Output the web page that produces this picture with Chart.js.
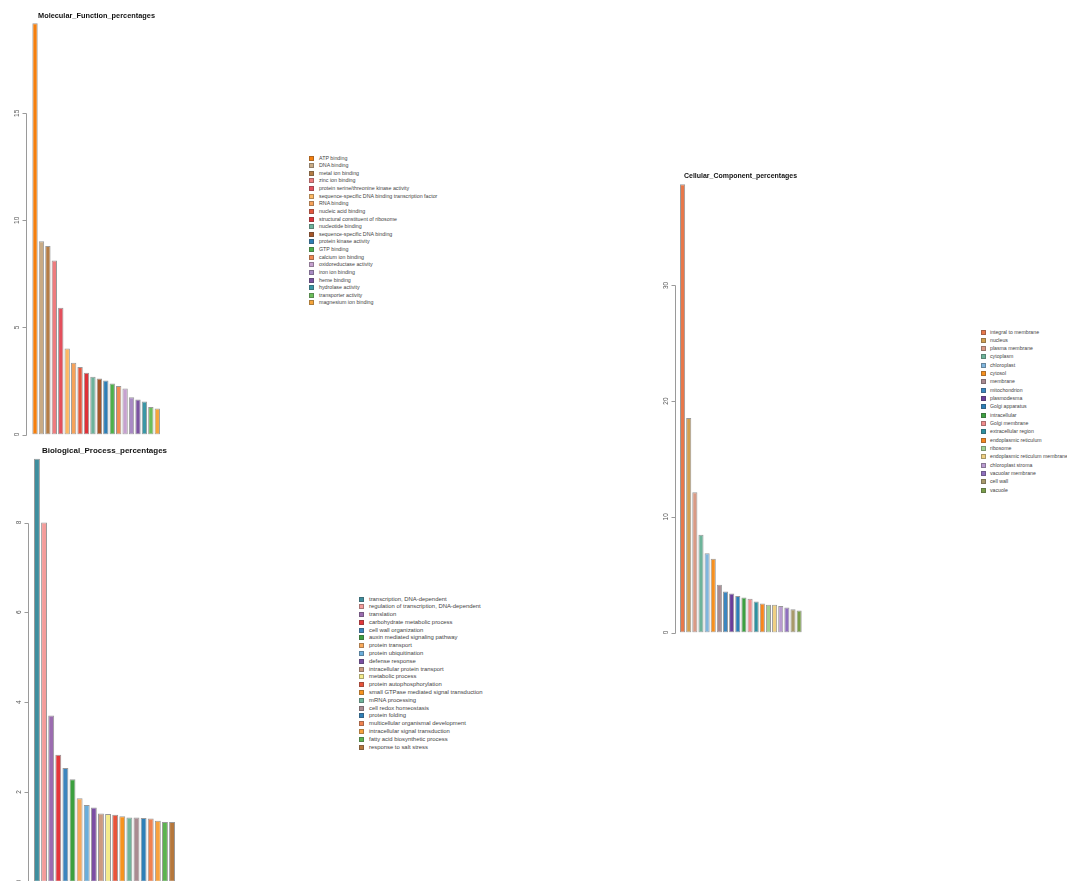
<!DOCTYPE html>
<html>
<head>
<meta charset="utf-8">
<script src="https://cdn.jsdelivr.net/npm/chart.js@4.4.1/dist/chart.umd.min.js"></script>
<style>
  html, body { margin: 0; padding: 0; background: #fff; width: 1067px; height: 881px; overflow: hidden; }
  canvas { position: absolute; }
  .title { position: absolute; font: bold 8px "Liberation Sans", Arial, sans-serif; color: #111; white-space: nowrap; transform-origin: left top; }
  .legend { position: absolute; font-family: "Liberation Sans", Arial, sans-serif; color: #444; }
  .legend .row { position: absolute; left: 0; white-space: nowrap; }
  .legend .sw { position: absolute; left: 0; width: 3px; height: 3px; border: 1px solid rgba(60,60,60,0.4); }
</style>
</head>
<body>
<canvas id="mf" width="200" height="450" style="left:0;top:0"></canvas>
<canvas id="bp" width="200" height="470" style="left:0;top:430px"></canvas>
<canvas id="cc" width="200" height="480" style="left:640px;top:170px"></canvas>

<script>
// GO term distributions (percent of annotated genes)
const mfCategories = ["ATP binding", "DNA binding", "metal ion binding", "zinc ion binding",
  "protein serine/threonine kinase activity", "sequence-specific DNA binding transcription factor",
  "RNA binding", "nucleic acid binding", "structural constituent of ribosome", "nucleotide binding",
  "sequence-specific DNA binding", "protein kinase activity", "GTP binding", "calcium ion binding",
  "oxidoreductase activity", "iron ion binding", "heme binding", "hydrolase activity",
  "transporter activity", "magnesium ion binding"];
const mfValues = [19.2, 9.03, 8.8, 8.13, 5.92, 4.02, 3.35, 3.15, 2.88, 2.70,
  2.62, 2.52, 2.38, 2.26, 2.15, 1.74, 1.64, 1.54, 1.29, 1.21];
const mfTicks = [0, 5, 10, 15];

const bpCategories = ["transcription, DNA-dependent", "regulation of transcription, DNA-dependent",
  "translation", "carbohydrate metabolic process", "cell wall organization",
  "auxin mediated signaling pathway", "protein transport", "protein ubiquitination",
  "defense response", "intracellular protein transport", "metabolic process",
  "protein autophosphorylation", "small GTPase mediated signal transduction", "mRNA processing",
  "cell redox homeostasis", "protein folding", "multicellular organismal development",
  "intracellular signal transduction", "fatty acid biosynthetic process", "response to salt stress"];
const bpValues = [9.42, 8.0, 3.70, 2.83, 2.53, 2.28, 1.86, 1.71, 1.65, 1.52,
  1.51, 1.49, 1.46, 1.43, 1.43, 1.42, 1.41, 1.36, 1.33, 1.33];
const bpTicks = [0, 2, 4, 6, 8];

const ccCategories = ["integral to membrane", "nucleus", "plasma membrane", "cytoplasm", "chloroplast",
  "cytosol", "membrane", "mitochondrion", "plasmodesma", "Golgi apparatus", "intracellular",
  "Golgi membrane", "extracellular region", "endoplasmic reticulum", "ribosome",
  "endoplasmic reticulum membrane", "chloroplast stroma", "vacuolar membrane", "cell wall", "vacuole"];
const ccValues = [38.75, 18.53, 12.13, 8.44, 6.86, 6.37, 4.12, 3.54, 3.37, 3.15,
  3.03, 2.91, 2.68, 2.51, 2.39, 2.39, 2.28, 2.16, 2.02, 1.90];
const ccTicks = [0, 10, 20, 30];

// palettes
const mfColors = ['#F57F0E','#C9AB85','#B57D45','#EE7C7E','#E44F5C','#FDB863','#F6A25A','#E5573E','#DF3138','#6DB29B',
  '#A65628','#2E7EB5','#4DAF4A','#F28A52','#C6A1CF','#A98BC4','#7A52A0','#3A97A6','#6BBE5A','#F6A53A'];
const bpColors = ['#3E8E9E','#F49C9A','#9B6CB0','#E3363A','#3C85BE','#3CA03E','#F9A95A','#6BAEDB','#7B4EA3','#CC9A80',
  '#F4EB8A','#E8533A','#F7931E','#6FB59B','#A98B91','#2E7FB8','#F08250','#F8A23E','#5DB350','#B5773C'];
const ccColors = ['#E8784A','#D2A050','#D99A85','#6DB49A','#80B6DE','#F7901E','#A98A91','#3A86C0','#6A3D9A','#2C7FB8',
  '#3CA040','#F28C8C','#2E90A0','#F7861D','#A0D092','#EFD082','#B99BD0','#8F6FBE','#A89A6A','#7A9E4A'];

// base-graphics style y axis: line only between first and last tick, rotated labels
const baseAxis = {
  id: 'baseAxis',
  afterDraw(chart, args, opts) {
    const y = chart.scales.y, ctx = chart.ctx, ticks = opts.ticks, x = opts.x + 0.5;
    const top = y.getPixelForValue(ticks[ticks.length - 1]);
    const bot = y.getPixelForValue(ticks[0]);
    ctx.save();
    ctx.strokeStyle = '#9a9a9a';
    ctx.lineWidth = 1;
    ctx.beginPath();
    ctx.moveTo(x, Math.round(bot) + 0.5);
    ctx.lineTo(x, Math.round(top) + 0.5);
    ticks.forEach(t => {
      const p = Math.round(y.getPixelForValue(t)) + 0.5;
      ctx.moveTo(x, p);
      ctx.lineTo(x - 4, p);
    });
    ctx.stroke();
    ctx.fillStyle = '#555';
    ctx.font = '6.5px "Liberation Sans", Arial, sans-serif';
    ctx.textAlign = 'center';
    ctx.textBaseline = 'middle';
    ticks.forEach(t => {
      ctx.save();
      ctx.translate(x - 9, y.getPixelForValue(t));
      ctx.rotate(-Math.PI / 2);
      ctx.fillText(String(t), 0, 0);
      ctx.restore();
    });
    ctx.restore();
  }
};

function drawBars(id, labels, values, colors, pad, yMax, ticks, axisX) {
  return new Chart(document.getElementById(id), {
    type: 'bar',
    data: {
      labels: labels,
      datasets: [{
        data: values,
        backgroundColor: colors,
        borderColor: 'rgba(70,70,70,0.55)',
        borderWidth: 1,
        borderSkipped: false,
        categoryPercentage: 1,
        barPercentage: 1 / 1.2
      }]
    },
    options: {
      responsive: false,
      animation: false,
      devicePixelRatio: 1,
      layout: { padding: pad },
      scales: {
        x: { display: false },
        y: { display: false, min: 0, max: yMax }
      },
      plugins: {
        legend: { display: false },
        tooltip: { enabled: false },
        baseAxis: { ticks: ticks, x: axisX }
      }
    },
    plugins: [baseAxis]
  });
}

const charts = [
  drawBars('mf', mfCategories, mfValues, mfColors, { left: 31.8, right: 39.5, top: 14.8, bottom: 15.5 }, 19.6, mfTicks, 26),
  drawBars('bp', bpCategories, bpValues, bpColors, { left: 33.4, right: 24.4, top: 11.7, bottom: 18.3 }, 9.8, bpTicks, 28),
  drawBars('cc', ccCategories, ccValues, ccColors, { left: 39.5, right: 37.8, top: 5.5, bottom: 17.5 }, 39.5, ccTicks, 35)
];

function addTitle(text, left, top, width) {
  const d = document.createElement('div');
  d.className = 'title';
  d.textContent = text;
  document.body.appendChild(d);
  d.style.left = left + 'px';
  d.style.top = top + 'px';
  const w = d.getBoundingClientRect().width;
  d.style.transform = 'scaleX(' + (width / w) + ')';
}
addTitle('Molecular_Function_percentages', 38, 11, 117);
addTitle('Biological_Process_percentages', 42, 446, 125);
addTitle('Cellular_Component_percentages', 684, 171, 113);

// legends built from each chart's labels and bar colours
function addLegend(chart, left, top, step, fontPx, textGap) {
  const box = document.createElement('div');
  box.className = 'legend';
  box.style.left = left + 'px';
  box.style.top = top + 'px';
  box.style.fontSize = fontPx + 'px';
  const ds = chart.data.datasets[0];
  chart.data.labels.forEach((lab, i) => {
    const row = document.createElement('div');
    row.className = 'row';
    row.style.top = (i * step) + 'px';
    row.style.lineHeight = '5px';
    row.style.height = '5px';
    const sw = document.createElement('span');
    sw.className = 'sw';
    sw.style.top = '0px';
    sw.style.background = ds.backgroundColor[i];
    const tx = document.createElement('span');
    tx.style.position = 'absolute';
    tx.style.left = textGap + 'px';
    tx.style.top = '0px';
    tx.textContent = lab;
    row.appendChild(sw);
    row.appendChild(tx);
    box.appendChild(row);
  });
  document.body.appendChild(box);
}
addLegend(charts[0], 309, 155.5, 7.63, 5.3, 10);
addLegend(charts[1], 359, 596.5, 7.79, 5.9, 10);
addLegend(charts[2], 981, 329.5, 8.32, 5.2, 9);
</script>
</body>
</html>
